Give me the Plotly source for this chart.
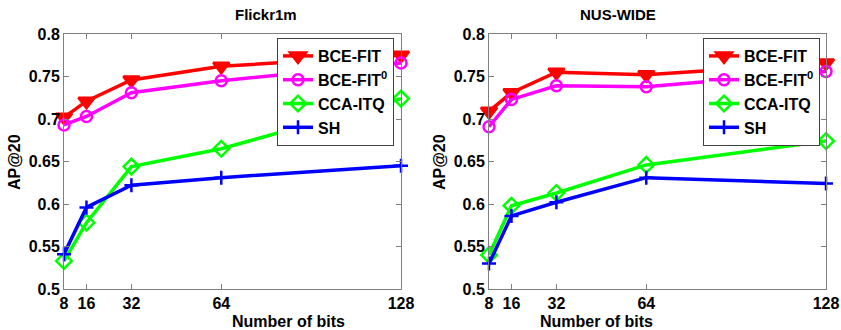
import plotly.graph_objects as go

bits = [8, 16, 32, 64, 128]
x_ticks = [8, 16, 32, 64, 128]
y_ticks = [0.5, 0.55, 0.6, 0.65, 0.7, 0.75, 0.8]
y_tick_labels = ["0.5", "0.55", "0.6", "0.65", "0.7", "0.75", "0.8"]

titles = ["Flickr1m", "NUS-WIDE"]
x_title = "Number of bits"
y_title = "AP@20"
series_names = ["BCE-FIT", "BCE-FIT<sup>0</sup>", "CCA-ITQ", "SH"]

flickr_bce_fit = [0.702, 0.721, 0.746, 0.762, 0.775]
flickr_bce_fit0 = [0.693, 0.703, 0.731, 0.745, 0.766]
flickr_cca_itq = [0.533, 0.578, 0.644, 0.665, 0.724]
flickr_sh = [0.541, 0.596, 0.622, 0.631, 0.645]

nus_bce_fit = [0.709, 0.731, 0.755, 0.752, 0.766]
nus_bce_fit0 = [0.691, 0.723, 0.739, 0.738, 0.756]
nus_cca_itq = [0.540, 0.598, 0.613, 0.646, 0.674]
nus_sh = [0.530, 0.586, 0.602, 0.631, 0.624]

colors = ["#ff0000", "#ff00ff", "#00ff00", "#0000ff"]
symbols = ["triangle-down", "circle-open", "diamond-open", "cross-thin-open"]
msizes = [14, 11, 12, 10]

FONT = "Liberation Sans, Arial, sans-serif"

fig = go.Figure()

panels = [
    (flickr_bce_fit, flickr_bce_fit0, flickr_cca_itq, flickr_sh),
    (nus_bce_fit, nus_bce_fit0, nus_cca_itq, nus_sh),
]

for p, data in enumerate(panels):
    xa = "x" if p == 0 else "x2"
    ya = "y" if p == 0 else "y2"
    lg = "legend" if p == 0 else "legend2"
    for i, vals in enumerate(data):
        fig.add_trace(go.Scatter(
            x=bits, y=vals, name=series_names[i], mode="lines+markers",
            line=dict(color=colors[i], width=3.5),
            marker=dict(symbol=symbols[i], size=msizes[i], color=colors[i],
                        line=dict(color=colors[i], width=2.5)),
            xaxis=xa, yaxis=ya, legend=lg, cliponaxis=False,
        ))

axis_common = dict(
    showgrid=False, zeroline=False, showline=True, linecolor="#808080", linewidth=1,
    mirror="ticks", ticks="inside", ticklen=5, tickcolor="#808080", automargin=False,
    tickfont=dict(family=FONT, size=16, color="black", weight="bold"),
)

domains_x = [[64 / 841, 401 / 841], [489 / 841, 826 / 841]]
dom_y = [1 - 289 / 330, 1 - 34 / 330]

for p in range(2):
    sfx = "" if p == 0 else "2"
    fig.update_layout(**{
        "xaxis" + sfx: dict(axis_common, domain=domains_x[p], range=[8, 128],
                            tickvals=x_ticks, ticktext=[str(t) for t in x_ticks],
                            anchor="y" + sfx),
        "yaxis" + sfx: dict(axis_common, domain=dom_y, range=[0.5, 0.8],
                            tickvals=y_ticks, ticktext=y_tick_labels,
                            anchor="x" + sfx),
    })

legend_common = dict(
    bgcolor="white", bordercolor="#404040", borderwidth=1,
    font=dict(family=FONT, size=16, color="black", weight="bold"),
    xanchor="left", yanchor="top", tracegroupgap=0, itemwidth=30,
)

annotations = []
ax_left_px = [14, 439]
for p in range(2):
    cx = (domains_x[p][0] + domains_x[p][1]) / 2
    annotations.append(dict(text="<b>%s</b>" % titles[p], x=cx, y=1 - 14 / 330,
                            xref="paper", yref="paper", showarrow=False, yanchor="middle",
                            font=dict(family=FONT, size=15, color="black")))
    annotations.append(dict(text="<b>%s</b>" % x_title, x=cx - 3 / 841, y=1 - 321 / 330,
                            xref="paper", yref="paper", showarrow=False, yanchor="middle",
                            font=dict(family=FONT, size=16, color="black")))
    annotations.append(dict(text="<b>%s</b>" % y_title, x=ax_left_px[p] / 841, y=1 - 162 / 330,
                            xref="paper", yref="paper", showarrow=False, textangle=-90,
                            xanchor="center", yanchor="middle",
                            font=dict(family=FONT, size=16, color="black")))

fig.update_layout(
    width=841, height=330,
    margin=dict(l=0, r=0, t=0, b=0),
    paper_bgcolor="white", plot_bgcolor="white",
    font=dict(family=FONT, size=16, color="black"),
    legend=dict(legend_common, x=277 / 841, y=1 - 38 / 330),
    legend2=dict(legend_common, x=703 / 841, y=1 - 38 / 330),
    annotations=annotations,
)

fig.write_html("out.html", config={"displayModeBar": False},
               post_script="document.body.style.margin='0';")
